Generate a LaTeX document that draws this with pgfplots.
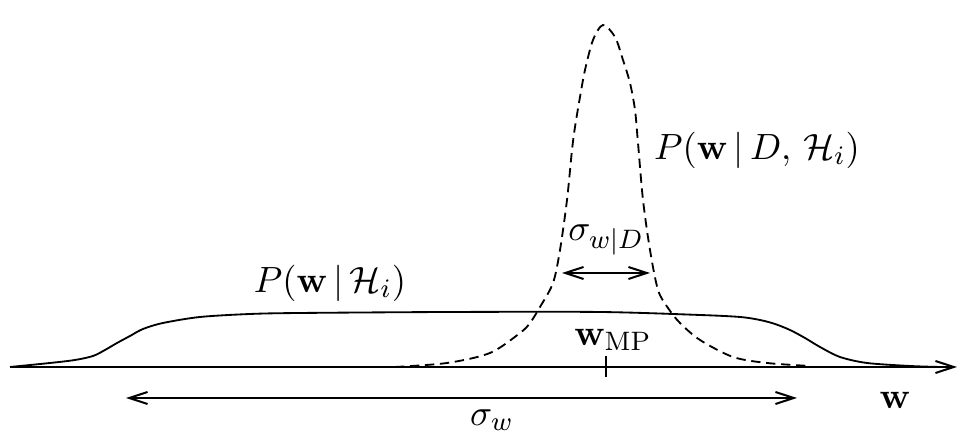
\documentclass[border=0pt]{standalone}
\usepackage{pgfplots}
\pgfplotsset{compat=1.18}
\usetikzlibrary{arrows.meta}
\begin{document}
\begin{tikzpicture}[
  barb/.style={line width=0.6pt,-{Straight Barb[length=5.5pt,width=3.6pt]}},
  dbarb/.style={line width=0.6pt,{Straight Barb[length=5.5pt,width=3.6pt]}-{Straight Barb[length=5.5pt,width=3.6pt]}},
  lab/.style={font=\fontsize{10.8}{13}\selectfont}]
\begin{axis}[
  width=290.1pt, height=133.5pt, scale only axis,
  xmin=0, xmax=967, ymin=0, ymax=445,
  hide axis, clip=false]

% prior P(w|H_i), broad
\addplot[black, line width=0.55pt, smooth] coordinates {
  (10,78) (50,82) (75,85) (93,89) (105,95) (117,102) (130,109) (143,116)
  (163,122) (200,128) (250,131) (300,132) (450,133) (600,133) (700,130)
  (740,128) (760,125) (775,121) (790,115) (805,107) (820,98) (840,88)
  (867,82) (910,79) (940,78)};

% posterior P(w|D,H_i), narrow
\addplot[black, line width=0.55pt, smooth, dash pattern=on 2.8pt off 1.7pt] coordinates {
  (395,78) (447,82) (490,92) (520,112) (530,122) (540,138) (553,162)
  (560,195) (567,245) (572,295) (575,318) (580,348) (585,375) (593,405)
  (603,420) (615,408) (623,385) (630,362) (635,335) (638,302) (643,245)
  (650,195) (658,155) (668,137) (680,122) (700,105) (733,88) (767,82)
  (810,79)};

% w axis
\addplot[barb, black] coordinates {(10,78) (957,78)};
\addplot[black, line width=0.6pt] coordinates {(606,89) (606,68)};

\draw[dbarb] (axis cs:562,172) -- (axis cs:650,172);
\draw[dbarb] (axis cs:126,47) -- (axis cs:797,47);

\node[lab] at (axis cs:757,295) {$P(\mathbf{w}\,|\,D,\,\mathcal{H}_i)$};
\node[lab] at (axis cs:330,162) {$P(\mathbf{w}\,|\,\mathcal{H}_i)$};
\node[lab] at (axis cs:606,205) {$\sigma_{w|D}$};
\node[lab] at (axis cs:613,105) {$\mathbf{w}_{\mathrm{MP}}$};
\node[lab] at (axis cs:492,25) {$\sigma_w$};
\node[lab] at (axis cs:895,45) {$\mathbf{w}$};

\coordinate (sw) at (rel axis cs:0,0);
\coordinate (ne) at (rel axis cs:1,1);
\end{axis}
\pgfresetboundingbox
\useasboundingbox (sw) rectangle (ne);
\end{tikzpicture}
\end{document}
